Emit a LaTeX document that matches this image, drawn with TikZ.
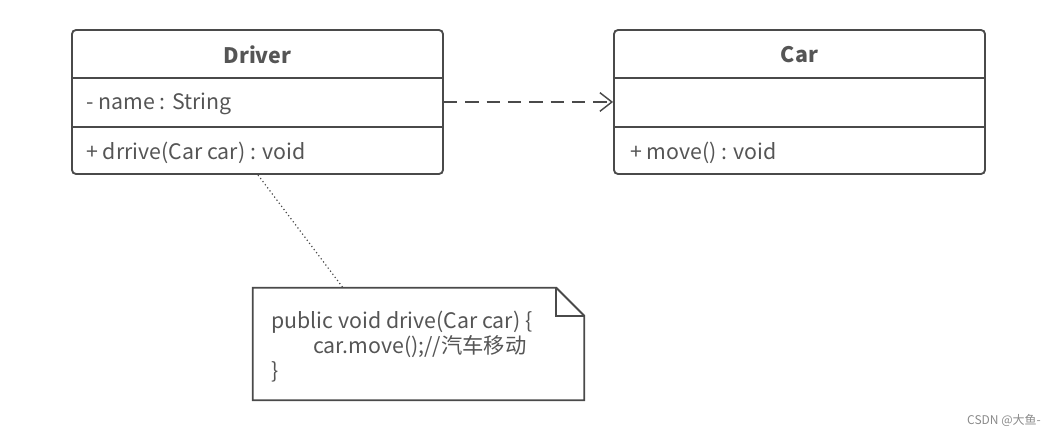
\documentclass[tikz,border=0pt]{standalone}
\usepackage{fontspec}
\setmainfont{Noto Sans CJK SC}
\usepackage{xcolor}
\usetikzlibrary{arrows.meta,positioning}
\definecolor{linegray}{HTML}{4A4A4A}
\definecolor{textgray}{HTML}{555555}
\definecolor{markgray}{HTML}{8A8A8A}

\begin{document}
\begin{tikzpicture}[x=0.75pt,y=0.75pt,font=\fontsize{16}{19}\selectfont,text=textgray,
  umlbox/.style={draw=linegray,line width=1.4pt,rounded corners=3pt,
    minimum width=278.25pt,minimum height=108pt,inner sep=0pt},
  divider/.style={draw=linegray,line width=1.4pt},
  member/.style={anchor=west,inner sep=0pt},
  title/.style={font=\fontsize{16}{19}\selectfont\bfseries}]
  \useasboundingbox (0,0) rectangle (1057,436);

  % class boxes
  \node[umlbox] (driver) at (257.5,334) {};
  \node[umlbox] (car)    at (799.5,334) {};
  \foreach \b in {driver,car} {
    \draw[divider] (\b.west |- 0,358) -- (\b.east |- 0,358);
    \draw[divider] (\b.west |- 0,309) -- (\b.east |- 0,309);
  }
  \node[title] (drivertitle) at (257.5,381) {Driver};
  \node[title] (cartitle)    at (799.5,381) {Car};
  \node[member] (drivername) at (86,332) {- name : String};
  \node[member] (driverop)   at (86,283) {+ drrive(Car car) : void};
  \node[member] (carop)      at (630,283) {+ move() : void};

  % dependency
  \coordinate (depfrom) at (driver.east |- 0,334);
  \coordinate (depto)   at (car.west |- 0,334);
  \draw[linegray,line width=1.1pt,dash pattern=on 10pt off 6pt,
    -{Straight Barb[length=9pt,width=14pt,line width=1.1pt]}] (depfrom) -- (depto);

  % note
  \node[minimum width=248.25pt,minimum height=84pt,inner sep=0pt] (note) at (418.5,92) {};
  \draw[linegray,line width=1.4pt]
    (note.south west) -- (note.north west) -- ([xshift=-21pt]note.north east)
    -- ([yshift=-21pt]note.north east) -- (note.south east) -- cycle;
  \draw[linegray,line width=1.4pt]
    ([xshift=-21pt]note.north east) -- ([xshift=-21pt,yshift=-21pt]note.north east)
    -- ([yshift=-21pt]note.north east);
  \node[member] (line1) at (271,114) {public void drive(Car car) \{};
  \node[member] (line2) at (313,89)  {car.move();//汽车移动};
  \node[member] (line3) at (271,64)  {\}};
  \coordinate (anchorpt) at (258,261);
  \draw[linegray,line width=0.9pt,dotted] (anchorpt) -- (note.north west -| 343,0);

  \node[font=\fontsize{9}{11}\selectfont,text=markgray] (mark) at (1004,16) {CSDN @大鱼-};
\end{tikzpicture}
\end{document}
